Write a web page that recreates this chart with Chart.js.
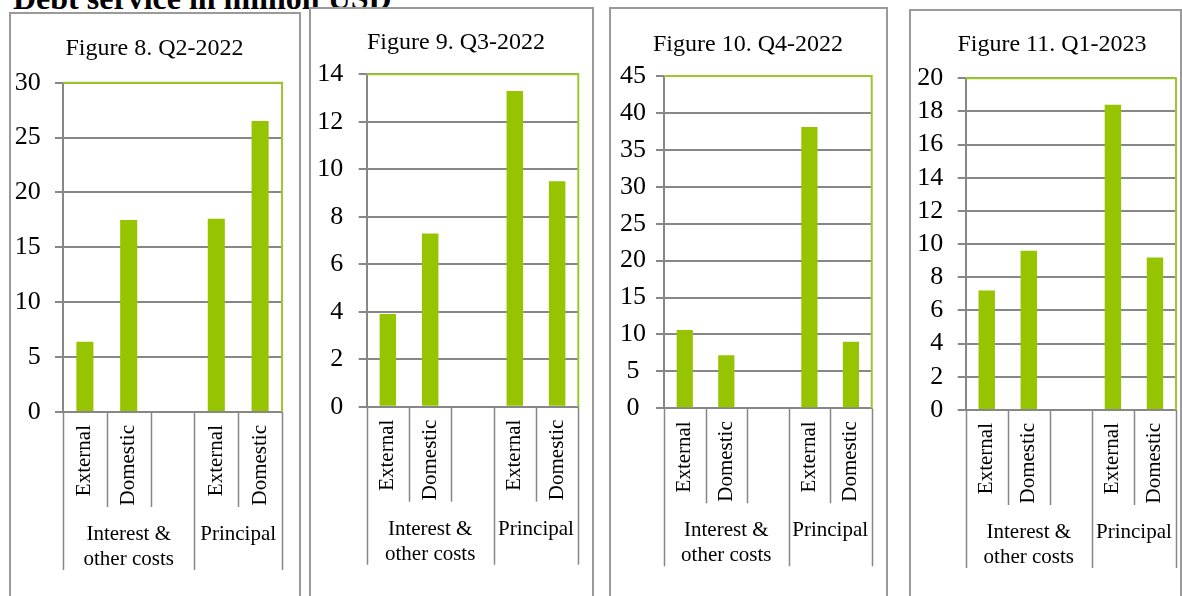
<!DOCTYPE html>
<html>
<head>
<meta charset="utf-8">
<script src="https://cdn.jsdelivr.net/npm/chart.js@4.4.1/dist/chart.umd.min.js"></script>
<style>
  body {
    margin: 0; width: 1182px; height: 596px; overflow: hidden;
    background: #fff; position: relative;
    font-family: 'Liberation Serif', 'Times New Roman', serif;
  }
  #heading {
    position: absolute; left: 13px; top: -18px;
    font-weight: bold; font-size: 32px; line-height: 32px;
    white-space: nowrap; color: #000;
  }
  .panel { position: absolute; box-sizing: border-box; border: 2px solid #9a9a9a; height: 700px; }
  canvas { position: absolute; }
</style>
</head>
<body>
<div id="heading">Debt service in million USD</div>
<script>
// --- data ---------------------------------------------------------------
const categories  = ['External', 'Domestic', '', 'External', 'Domestic'];
const groupLabels = [['Interest &', 'other costs'], ['Principal']];
const groupSizes  = [3, 2];

const figureTitles = ['Figure 8. Q2-2022', 'Figure 9. Q3-2022', 'Figure 10. Q4-2022', 'Figure 11. Q1-2023'];

const q2_2022 = [6.4, 17.5, null, 17.6, 26.5];
const q3_2022 = [3.9, 7.3, null, 13.3, 9.5];
const q4_2022 = [10.6, 7.2, null, 38.1, 9.0];
const q1_2023 = [7.2, 9.6, null, 18.4, 9.2];
const quarters = [q2_2022, q3_2022, q4_2022, q1_2023];

const yMax  = [30, 14, 45, 20];
const yStep = [5, 2, 5, 2];

// --- layout (page px) ----------------------------------------------------
// box: [left, top, width]   plot: [left, top, right, bottom]
const frames = [
  { box: [9, 12, 292],  left: 10,  top: 15, plot: [63, 82.7, 282, 412],       titleX: 154.5, titleY: 48.7, pad: 14.3, align: 'near' },
  { box: [309, 7, 285], left: 310, top: 10, plot: [366.7, 74.3, 578.3, 406.7], titleX: 456,   titleY: 43.2, pad: 15.4, align: 'near' },
  { box: [609, 7, 279], left: 610, top: 10, plot: [664, 76, 871.7, 408.3],     titleX: 748,   titleY: 44.4, pad: 10,   align: 'center' },
  { box: [909, 9, 273], left: 910, top: 12, plot: [965.7, 78.3, 1176, 410],    titleX: 1052,  titleY: 44.4, pad: 14.4, align: 'near' },
];

const BAR   = '#96C400';
const FRAME = '#9CC82A';
const GRID  = '#878787';
const SERIF = "'Liberation Serif', 'Times New Roman', serif";

Chart.defaults.font.family = SERIF;
Chart.defaults.color = '#000';

// green frame on top/right of the plot, plus the two-level category dividers and group captions
const categoryFrame = {
  id: 'categoryFrame',
  afterDatasetsDraw(chart) {
    const { ctx, chartArea: a } = chart;
    ctx.save();
    ctx.strokeStyle = FRAME;
    ctx.lineWidth = 2;
    ctx.beginPath();
    ctx.moveTo(a.left, a.top);
    ctx.lineTo(a.right, a.top);
    ctx.lineTo(a.right, a.bottom);
    ctx.stroke();
    ctx.restore();
  },
  afterDraw(chart) {
    const { ctx } = chart;
    const x = chart.scales.x;
    const y0 = chart.chartArea.bottom;
    const n = x.ticks.length;
    const edge = i => i <= 0 ? x.left : i >= n ? x.right
      : (x.getPixelForValue(i - 1) + x.getPixelForValue(i)) / 2;

    const groupEdges = [0];
    groupSizes.forEach(s => groupEdges.push(groupEdges[groupEdges.length - 1] + s));

    ctx.save();
    ctx.strokeStyle = GRID;
    ctx.lineWidth = 1.5;
    for (let i = 0; i <= n; i++) {
      const px = Math.round(edge(i)) + 0.5;
      const long = groupEdges.includes(i);
      ctx.beginPath();
      ctx.moveTo(px, y0);
      ctx.lineTo(px, y0 + (long ? 158 : 95));
      ctx.stroke();
    }

    ctx.fillStyle = '#000';
    ctx.font = '21px ' + SERIF;
    ctx.textAlign = 'center';
    ctx.textBaseline = 'alphabetic';
    groupLabels.forEach((lines, g) => {
      const cx = (edge(groupEdges[g]) + edge(groupEdges[g + 1])) / 2;
      lines.forEach((t, k) => ctx.fillText(t, cx, y0 + 128 + k * 25));
    });
    ctx.restore();
  }
};

function makeChart(i) {
  const f = frames[i];

  const box = document.createElement('div');
  box.className = 'panel';
  box.style.left = f.box[0] + 'px';
  box.style.top = f.box[1] + 'px';
  box.style.width = f.box[2] + 'px';
  document.body.appendChild(box);

  const [pl, pt, pr, pb] = f.plot;
  const cx = f.left, cy = f.top;
  // the title is centred on the full canvas width, so the canvas runs to 2*titleX - left
  const cw = Math.round(2 * f.titleX - cx) - cx;
  const ch = 596 - cy;
  const canvas = document.createElement('canvas');
  canvas.width = cw;
  canvas.height = ch;
  canvas.style.left = cx + 'px';
  canvas.style.top = cy + 'px';
  document.body.appendChild(canvas);

  const titleLine = 24 * 1.2;
  const padTop = f.titleY - titleLine / 2 - cy;
  const titleGap = pt - cy - padTop - titleLine;
  const rightGap = cx + cw - pr;

  new Chart(canvas, {
    type: 'bar',
    data: {
      labels: categories,
      datasets: [{
        data: quarters[i],
        backgroundColor: BAR,
        borderWidth: 0,
        barPercentage: 0.39,
        categoryPercentage: 1,
      }],
    },
    options: {
      responsive: false,
      animation: false,
      devicePixelRatio: 1,
      layout: { padding: { left: 0, right: 0, top: padTop, bottom: 0 } },
      plugins: {
        legend: { display: false },
        tooltip: { enabled: false },
        title: {
          display: true,
          text: figureTitles[i],
          color: '#000',
          font: { size: 24, weight: 'normal' },
          padding: { top: 0, bottom: titleGap },
        },
      },
      scales: {
        x: {
          grid: { color: 'rgba(0,0,0,0)', drawOnChartArea: false, tickLength: 13 },
          border: { color: GRID, width: 2 },
          ticks: { autoSkip: false, minRotation: 90, maxRotation: 90, padding: 0, font: { size: 21 }, color: '#000' },
          afterFit: s => { s.height = cy + ch - pb; },
        },
        y: {
          min: 0,
          max: yMax[i],
          grid: { color: GRID, lineWidth: 2, tickLength: 8 },
          border: { color: GRID, width: 2 },
          ticks: {
            stepSize: yStep[i], autoSkip: false, maxTicksLimit: 20,
            font: { size: 26 }, color: '#000', padding: f.pad, crossAlign: f.align,
          },
          afterFit: s => { s.width = pl - cx; },
        },
        // empty right-hand gutter between the plot and the canvas edge
        gutter: {
          type: 'linear',
          position: 'right',
          grid: { display: false },
          border: { display: false },
          ticks: { display: false },
          afterFit: s => { s.width = rightGap; },
        },
      },
    },
    plugins: [categoryFrame],
  });
}

frames.forEach((_, i) => makeChart(i));
</script>
</body>
</html>
